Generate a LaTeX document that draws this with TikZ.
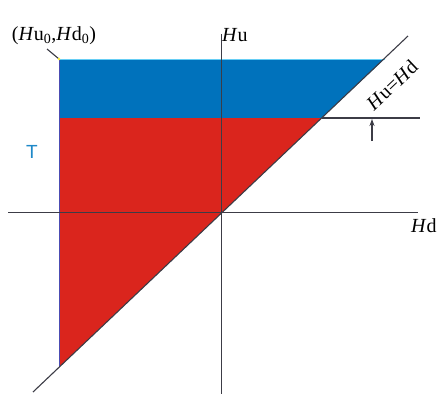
\documentclass[tikz,border=0pt]{standalone}
\usepackage{fontspec}
\usetikzlibrary{arrows.meta}
\setmainfont{Liberation Serif}
\newfontfamily\tsans{Liberation Sans}
\definecolor{zoneblue}{RGB}{0,114,188}
\definecolor{zonered}{RGB}{218,37,29}
\definecolor{tblue}{RGB}{30,136,200}
\definecolor{axisgrey}{RGB}{60,60,70}
\begin{document}
\begin{tikzpicture}[x={(1pt,0)},y={(0,-1pt)},
  axisline/.style={draw=axisgrey,line width=1.1pt},
  lbl/.style={inner sep=0pt,font=\fontsize{20}{24}\selectfont},
  ]
\useasboundingbox (0,0) rectangle (440,394);
% key points
\coordinate (O) at (221.7,212.5);
\coordinate (TL) at (59,59);
\coordinate (TR) at (384.5,59);
\coordinate (ML) at (59,118);
\coordinate (MR) at (321.7,118);
\coordinate (BL) at (59,367.3);
\coordinate (Dlo) at (33,392);
\coordinate (Dhi) at (408,36);
\coordinate (Xl) at (8,212.5);
\coordinate (Xr) at (418,212.5);
\coordinate (Yt) at (221.7,34);
\coordinate (Yb) at (221.7,394);
\coordinate (Lr) at (420,118);
\coordinate (Ab) at (372,141);
\coordinate (At) at (372,119);
\coordinate (Ls) at (47,49);
% regions
\fill[zoneblue] (TL) -- (TR) -- (MR) -- (ML) -- cycle;
\fill[zonered] (ML) -- (MR) -- (BL) -- cycle;
\draw[color=cyan!60!white,line width=0.6pt] (TL) -- (TR);
\draw[color=blue!40!gray,line width=0.6pt] (TL) -- (BL);
% axes and lines
\draw[axisline] (Xl) -- (Xr);
\draw[axisline] (Yt) -- (Yb);
\draw[axisline] (Dlo) -- (Dhi);
\draw[axisline] (MR) -- (Lr);
\draw[axisline,-{Stealth[length=7pt,width=5pt]}] (Ab) -- (At);
\draw[axisline] (Ls) -- (TL);
\fill[yellow!80!white] (TL) circle (1.4);
% labels
\node[lbl,anchor=base west] (hu) at (222,41) {\textit{H}u};
\node[lbl,anchor=base west] (hd) at (411,232) {\textit{H}d};
\node[lbl,anchor=base] (pt) at (54,40) {(\textit{H}u\textsubscript{0},\textit{H}d\textsubscript{0})};
\node[lbl,rotate=43.5] (eq) at (392,85) {\textit{H}u=\textit{H}d};
\node[inner sep=0pt,text=tblue,font=\tsans\fontsize{19}{22}\selectfont] (T) at (32,152) {T};
\end{tikzpicture}
\end{document}
